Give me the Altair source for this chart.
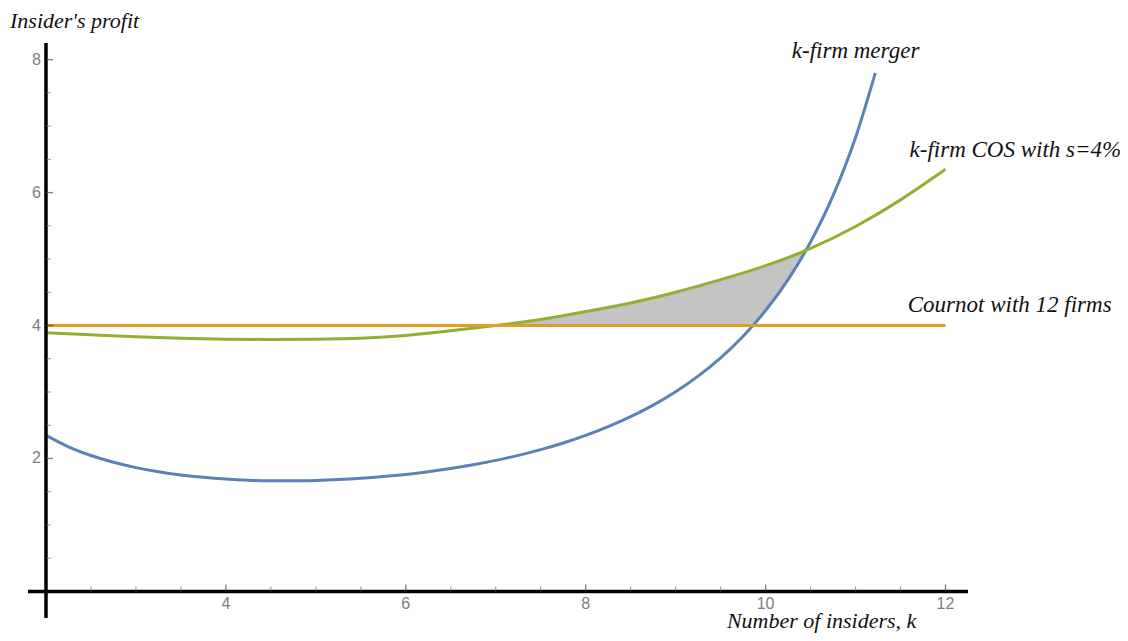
import altair as alt
import pandas as pd

# ---- data ----
k_merger = [2.0, 2.25, 2.5, 2.75, 3.0, 3.25, 3.5, 3.75, 4.0, 4.25, 4.5, 4.75, 5.0, 5.25, 5.5, 5.75,
            6.0, 6.25, 6.5, 6.75, 7.0, 7.25, 7.5, 7.75, 8.0, 8.25, 8.5, 8.75, 9.0, 9.25, 9.5, 9.75,
            10.0, 10.25, 10.5, 10.75, 11.0, 11.22]
profit_merger = [2.347, 2.176, 2.045, 1.942, 1.862, 1.800, 1.752, 1.716, 1.690, 1.673, 1.665, 1.663,
                 1.669, 1.682, 1.701, 1.727, 1.760, 1.801, 1.849, 1.905, 1.971, 2.047, 2.133, 2.233,
                 2.347, 2.479, 2.629, 2.803, 3.004, 3.239, 3.514, 3.839, 4.225, 4.690, 5.256, 5.953,
                 6.828, 7.80]

k_cos = [2.0, 2.5, 3.0, 3.5, 4.0, 4.5, 5.0, 5.5, 6.0, 6.5, 7.0, 7.5, 8.0, 8.5, 9.0, 9.5, 10.0,
         10.5, 11.0, 11.5, 12.0]
profit_cos = [3.89, 3.86, 3.83, 3.81, 3.795, 3.79, 3.795, 3.81, 3.85, 3.92, 4.00, 4.09, 4.21, 4.34,
              4.50, 4.69, 4.90, 5.16, 5.49, 5.89, 6.35]

k_cournot = [2.0, 12.0]
profit_cournot = [4.0, 4.0]

shade_k = [7.0, 7.25, 7.5, 7.75, 8.0, 8.25, 8.5, 8.75, 9.0, 9.25, 9.5, 9.75, 9.86, 10.0, 10.1,
           10.2, 10.3, 10.4, 10.45]
shade_top = [4.00, 4.045, 4.09, 4.15, 4.21, 4.27, 4.34, 4.42, 4.50, 4.59, 4.69, 4.79, 4.84, 4.90,
             4.95, 5.00, 5.06, 5.11, 5.14]
shade_bottom = [4.0, 4.0, 4.0, 4.0, 4.0, 4.0, 4.0, 4.0, 4.0, 4.0, 4.0, 4.0, 4.0, 4.225, 4.40,
                4.59, 4.79, 5.015, 5.14]

x_major = [4, 6, 8, 10, 12]
x_minor = [2.5, 3, 3.5, 4.5, 5, 5.5, 6.5, 7, 7.5, 8.5, 9, 9.5, 10.5, 11, 11.5]
y_major = [2, 4, 6, 8]
y_minor = [0.5, 1, 1.5, 2.5, 3, 3.5, 4.5, 5, 5.5, 6.5, 7, 7.5]

curve_labels = ["k-firm merger", "k-firm COS with s=4%", "Cournot with 12 firms"]
x_title = "Number of insiders, k"
y_title = "Insider's profit"

# ---- colours / styles ----
BLUE = "#5E81B5"
GREEN = "#8FB032"
ORANGE = "#E19C24"
FILL = "#C4C4C4"
TICKCOL = "#808080"
SERIF = "Liberation Serif"
SANS = "Liberation Sans"

XDOM = [1.8, 12.25]
YDOM = [-0.4, 8.25]
xs = alt.Scale(domain=XDOM, nice=False, zero=False)
ys = alt.Scale(domain=YDOM, nice=False, zero=False)

def X(f="k"):
    return alt.X(f"{f}:Q", scale=xs, axis=None)

def Y(f="v"):
    return alt.Y(f"{f}:Q", scale=ys, axis=None)

df_m = pd.DataFrame({"k": k_merger, "v": profit_merger})
df_c = pd.DataFrame({"k": k_cos, "v": profit_cos})
df_o = pd.DataFrame({"k": k_cournot, "v": profit_cournot})
df_s = pd.DataFrame({"k": shade_k, "top": shade_top, "bot": shade_bottom})

shade = alt.Chart(df_s).mark_area(color=FILL, interpolate="linear").encode(
    x=X(), y=Y("top"), y2="bot:Q")

line_m = alt.Chart(df_m).mark_line(color=BLUE, strokeWidth=3, interpolate="monotone").encode(x=X(), y=Y())
line_c = alt.Chart(df_c).mark_line(color=GREEN, strokeWidth=3, interpolate="natural").encode(x=X(), y=Y())
line_o = alt.Chart(df_o).mark_line(color=ORANGE, strokeWidth=3).encode(x=X(), y=Y())

# axes drawn through the origin (k=2, profit=0)
ax_df = pd.DataFrame({"x1": [XDOM[0]], "x2": [XDOM[1]], "y": [0.0]})
x_axis = alt.Chart(ax_df).mark_rule(color="black", strokeWidth=3.5).encode(
    x=X("x1"), x2="x2:Q", y=Y("y"))
ay_df = pd.DataFrame({"x": [2.0], "y1": [YDOM[0]], "y2": [YDOM[1]]})
y_axis = alt.Chart(ay_df).mark_rule(color="black", strokeWidth=3.5).encode(
    x=X("x"), y=Y("y1"), y2="y2:Q")

xt_major = alt.Chart(pd.DataFrame({"k": x_major, "v": 0.0})).mark_tick(
    orient="vertical", size=7, thickness=1.3, color="#444", yOffset=-3.5).encode(x=X(), y=Y())
xt_minor = alt.Chart(pd.DataFrame({"k": x_minor, "v": 0.0})).mark_tick(
    orient="vertical", size=5, thickness=1, color="#666", yOffset=-2.5).encode(x=X(), y=Y())
yt_major = alt.Chart(pd.DataFrame({"k": 2.0, "v": y_major})).mark_tick(
    orient="horizontal", size=7, thickness=1.3, color="#444", xOffset=3.5).encode(x=X(), y=Y())
yt_minor = alt.Chart(pd.DataFrame({"k": 2.0, "v": y_minor})).mark_tick(
    orient="horizontal", size=5, thickness=1, color="#666", xOffset=2.5).encode(x=X(), y=Y())

xl = alt.Chart(pd.DataFrame({"k": x_major, "v": 0.0, "t": [str(v) for v in x_major]})).mark_text(
    font=SANS, fontSize=16, color=TICKCOL, baseline="middle", align="center", dy=13).encode(
    x=X(), y=Y(), text="t:N")
yl = alt.Chart(pd.DataFrame({"k": 2.0, "v": y_major, "t": [str(v) for v in y_major]})).mark_text(
    font=SANS, fontSize=16, color=TICKCOL, baseline="middle", align="right", dx=-5).encode(
    x=X(), y=Y(), text="t:N")

# annotations (label text from lists above; anchor in data coordinates)
ann = pd.DataFrame({
    "t": curve_labels + [x_title, y_title],
    "k": [11.0, 11.6, 11.58, 9.57, 1.6],
    "v": [8.03, 6.53, 4.21, -0.545, 8.47],
    "fs": [23, 23, 23, 22, 22],
    "al": ["center", "left", "left", "left", "left"],
})
ann_c = alt.Chart(ann[ann.al == "center"]).mark_text(
    font=SERIF, fontStyle="italic", color="#111", align="center",
    baseline="alphabetic").encode(x=X(), y=Y(), text="t:N",
                                  size=alt.Size("fs:Q", scale=None, legend=None))
ann_l = alt.Chart(ann[ann.al == "left"]).mark_text(
    font=SERIF, fontStyle="italic", color="#111", align="left",
    baseline="alphabetic").encode(x=X(), y=Y(), text="t:N",
                                  size=alt.Size("fs:Q", scale=None, legend=None))

chart = alt.layer(
    shade, line_m, line_c, line_o, x_axis, y_axis,
    xt_major, xt_minor, yt_major, yt_minor, xl, yl, ann_c, ann_l
).properties(
    width=940, height=575,
    background="white",
    autosize=alt.AutoSizeParams(type="none"),
    padding={"left": 20, "top": 35, "right": 152, "bottom": 15},
).configure_view(strokeWidth=0, stroke=None)

chart.save("out.html", embed_options={"renderer": "svg", "actions": False})
